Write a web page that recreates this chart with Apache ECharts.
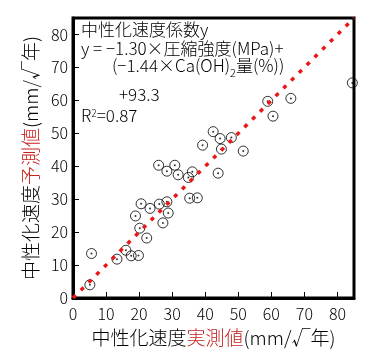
<!DOCTYPE html>
<html>
<head>
<meta charset="utf-8">
<script src="https://cdn.jsdelivr.net/npm/echarts@6/dist/echarts.min.js"></script>
<style>
  html, body { margin: 0; padding: 0; background: #fff; }
  #chart { width: 379px; height: 352px; }
</style>
</head>
<body>
<div id="chart"></div>
<script>
// 実測値 (x) / 予測値 (y)
const measured = [5.1, 5.6, 13.3, 16.0, 17.6, 19.8, 22.3, 20.2, 18.9, 27.2, 28.8, 28.4,
  26.1, 23.3, 20.6, 35.3, 37.6, 25.9, 28.4, 30.8, 31.8, 34.9, 36.1, 43.9,
  39.2, 42.4, 44.5, 47.9, 44.9, 51.5, 58.9, 65.9, 60.5, 84.5]
const predicted = [4.0, 13.5, 11.8, 14.5, 12.8, 12.9, 18.2, 21.2, 24.9, 22.8, 25.8, 29.2,
  28.5, 27.2, 28.6, 30.3, 30.4, 40.3, 38.5, 40.3, 37.4, 36.6, 38.3, 37.9,
  46.4, 50.5, 48.4, 48.7, 45.2, 44.6, 59.7, 60.6, 55.2, 65.3]
// 1:1 line
const lineX = [0, 85]
const lineY = [0, 85]
const axisTicks = [0, 10, 20, 30, 40, 50, 60, 70, 80]

const FONT = 'Noto Sans CJK JP'
const W = 300
const RED = '#c81e1e'

const points = measured.map((v, i) => [v, predicted[i]])
const linePts = lineX.map((v, i) => [v, lineY[i]])

const chart = echarts.init(document.getElementById('chart'))

const axisCommon = {
  type: 'value',
  min: 0,
  max: 85,
  interval: 10,
  axisLine: { show: true, lineStyle: { color: '#000', width: 3 } },
  axisTick: { show: true, inside: true, length: 6, lineStyle: { color: '#000', width: 1 } },
  splitLine: { show: false },
  axisLabel: {
    color: '#000',
    fontFamily: FONT,
    fontWeight: W,
    fontSize: 16,
    formatter: v => (axisTicks.indexOf(v) >= 0 ? String(v) : '')
  },
  nameLocation: 'middle',
  nameTextStyle: {
    fontFamily: FONT,
    fontWeight: W,
    fontSize: 19,
    color: '#000',
    rich: {
      a: { fontFamily: FONT, fontWeight: W, fontSize: 19, color: '#000' },
      r: { fontFamily: FONT, fontWeight: W, fontSize: 19, color: RED }
    }
  }
}

const f17 = W + ' 17px "' + FONT + '"'

const option = {
  backgroundColor: '#fff',
  animation: false,
  grid: {
    left: 73, top: 18, width: 281, height: 282,
    show: true, borderColor: '#000', borderWidth: 3, backgroundColor: 'transparent'
  },
  xAxis: Object.assign({}, axisCommon, {
    name: '{a|中性化速度}{r|実測値}{a|(mm/√年)}',
    nameGap: 30,
    axisLabel: Object.assign({}, axisCommon.axisLabel, { margin: 8 })
  }),
  yAxis: Object.assign({}, axisCommon, {
    name: '{a|中性化速度}{r|予測値}{a|(mm/√年)}',
    nameGap: 30,
    nameRotate: 90,
    axisLabel: Object.assign({}, axisCommon.axisLabel, { margin: 5 })
  }),
  graphic: [
    { type: 'text', left: 81, top: 21, style: { text: '中性化速度係数y', font: f17, fill: '#000' } },
    { type: 'text', left: 81, top: 40, style: { text: 'y = −1.30×圧縮強度(MPa)+', font: f17, fill: '#000' } },
    {
      type: 'text', left: 112, top: 57,
      style: {
        text: '{a|(−1.44×Ca(OH)}{s|2}{a|量(%))}',
        rich: {
          a: { font: f17, fill: '#000', verticalAlign: 'top' },
          s: { font: W + ' 11px "' + FONT + '"', fill: '#000', padding: [10, 0, 0, 0], verticalAlign: 'top' }
        }
      }
    },
    { type: 'text', left: 119, top: 86, style: { text: '+93.3', font: f17, fill: '#000' } },
    {
      type: 'text', left: 81, top: 107,
      style: {
        text: '{a|R}{s|2}{a|=0.87}',
        rich: {
          a: { font: f17, fill: '#000', verticalAlign: 'top' },
          s: { font: W + ' 10px "' + FONT + '"', fill: '#000', padding: [1, 0, 0, 0], verticalAlign: 'top' }
        }
      }
    }
  ],
  series: [
    {
      type: 'scatter',
      data: points,
      symbol: 'circle',
      symbolSize: 10,
      clip: false,
      itemStyle: { color: 'transparent', borderColor: '#000', borderWidth: 1 },
      z: 2
    },
    {
      type: 'scatter',
      data: points,
      symbol: 'circle',
      symbolSize: 2,
      clip: false,
      itemStyle: { color: '#000' },
      z: 3
    },
    {
      type: 'line',
      data: linePts,
      showSymbol: false,
      symbol: 'none',
      lineStyle: { color: '#e81818', width: 3.5, type: [4, 7] },
      z: 4
    }
  ]
}

chart.setOption(option)
</script>
</body>
</html>
